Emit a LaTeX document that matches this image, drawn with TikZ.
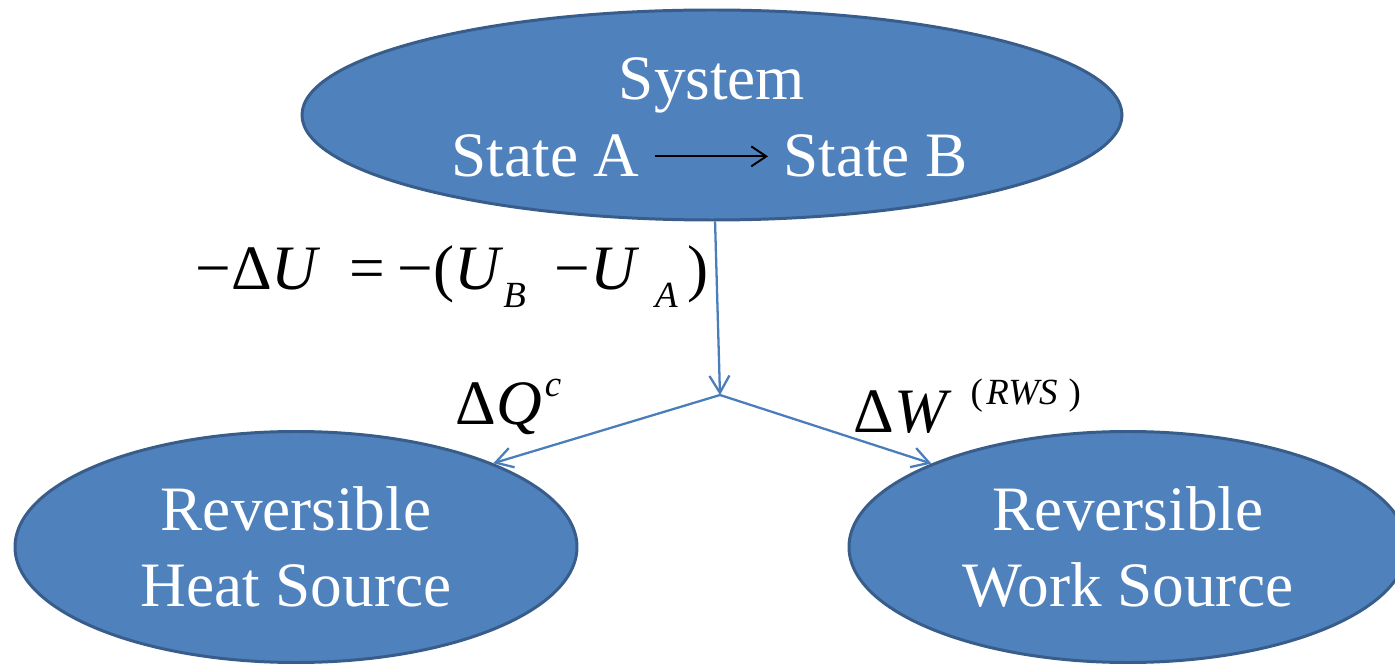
\documentclass[tikz,border=0pt]{standalone}
\usepackage{fontspec}
\setmainfont{Liberation Serif}
\usepackage{tikz}
\usetikzlibrary{arrows.meta,shapes.geometric}
\definecolor{cfill}{RGB}{79,129,189}
\definecolor{cedge}{RGB}{56,93,138}
\definecolor{cline}{RGB}{74,126,187}
\tikzset{
  blob/.style={ellipse,fill=cfill,draw=cedge,line width=1.7pt,inner sep=0pt,
    align=center,text=white,font=\fontsize{36}{43}\selectfont},
  inlab/.style={text=white,inner ysep=0pt,font=\fontsize{36}{43}\selectfont},
  flow/.style={draw=cline,line width=1.3pt,
    -{Straight Barb[length=3.4mm,width=4mm]}},
  eqlab/.style={inner sep=0pt,anchor=base west,font=\fontsize{36}{42}\selectfont}
}
\newcommand{\lowidx}[1]{\raisebox{-0.36cm}{\fontsize{21}{21}\selectfont\textit{#1}}}
\newcommand{\hiidx}[1]{\raisebox{0.56cm}{\fontsize{21}{21}\selectfont #1}}

\begin{document}
\begin{tikzpicture}
  \useasboundingbox (0,0) rectangle (27.9,13.3);
  % system with its change of state
  \node[blob,minimum width=16.4cm,minimum height=4.2cm] (sys) at (14.24,11.0) {};
  \node[inlab,anchor=base] (sysname) at (14.24,11.3) {System};
  \node[inlab,inner xsep=0.3cm,anchor=base east] (stA) at (13.1,9.76) {State A};
  \node[inlab,inner xsep=0.3cm,anchor=base west] (stB) at (15.36,9.76) {State B};
  \draw[line width=1.1pt,-{Straight Barb[length=3mm,width=4mm]}] (stA) -- (stB);
  % reversible sources
  \node[blob,minimum width=11.24cm,minimum height=4.62cm] (heat) at (5.92,2.36)
    {Reversible\\Heat Source};
  \node[blob,minimum width=11.16cm,minimum height=4.62cm] (work) at (22.56,2.36)
    {Reversible\\Work Source};
  % energy split
  \coordinate (junc) at (14.4,5.4);
  \draw[flow] (sys) -- (junc);
  \draw[flow] (junc) -- (heat.23);
  \draw[flow] (junc) -- (work.157);
  \node[eqlab] (dU) at (3.9,7.5)
    {−Δ\textit{U}\hspace{0.45em}=\hspace{0.2em}−(\textit{U}\lowidx{B}\hspace{0.45em}−\textit{U}\hspace{0.25em}\lowidx{A}\hspace{0.15em})};
  \node[eqlab] (dQ) at (9.1,4.8) {Δ\textit{Q}\hspace{0.05em}\hiidx{\textit{c}}};
  \node[eqlab] (dW) at (17.06,4.64)
    {Δ\textit{W}\hspace{0.3em}\hiidx{(\hspace{0.1em}\textit{RWS}\hspace{0.3em})}};
\end{tikzpicture}
\end{document}
